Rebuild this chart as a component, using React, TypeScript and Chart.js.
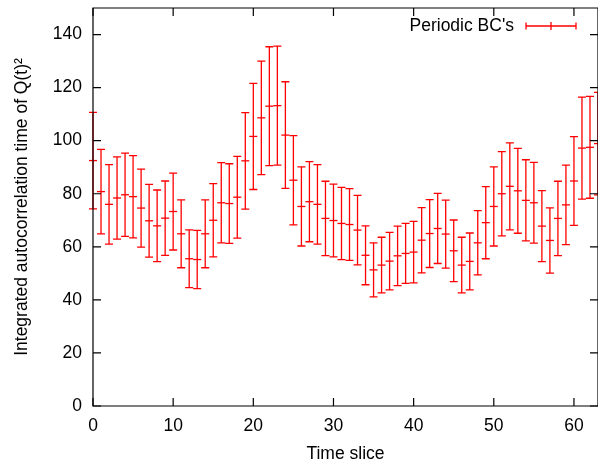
import React, { useEffect, useRef } from "react";
import { Chart, registerables } from "chart.js";

Chart.register(...registerables);

const timeSlices = [
  0, 1, 2, 3, 4, 5, 6, 7, 8, 9, 10, 11, 12, 13, 14, 15, 16, 17, 18, 19, 20, 21,
  22, 23, 24, 25, 26, 27, 28, 29, 30, 31, 32, 33, 34, 35, 36, 37, 38, 39, 40, 41,
  42, 43, 44, 45, 46, 47, 48, 49, 50, 51, 52, 53, 54, 55, 56, 57, 58, 59, 60, 61,
  62, 63,
];

const tauMeans = [
  92.5, 80.8, 76.0, 78.4, 79.6, 78.9, 74.6, 69.8, 67.9, 70.8, 73.3, 64.9, 55.5,
  55.2, 64.9, 70.0, 76.6, 76.3, 78.7, 92.4, 101.6, 108.6, 113.0, 113.2, 102.1,
  85.1, 75.2, 77.0, 76.0, 70.7, 69.9, 68.8, 68.4, 66.3, 56.8, 51.3, 53.1, 54.6,
  56.6, 57.5, 58.0, 62.5, 65.0, 66.9, 64.8, 58.5, 53.1, 54.5, 61.5, 69.1, 75.2,
  80.0, 82.8, 81.1, 77.5, 76.6, 67.8, 62.4, 70.7, 75.8, 84.8, 97.2, 97.5, 98.9,
];

const tauErrors = [
  18.2, 15.9, 15.0, 15.5, 15.7, 15.5, 14.7, 13.7, 13.5, 14.0, 14.5, 12.8, 10.9,
  11.0, 12.8, 13.8, 15.1, 15.0, 15.4, 18.2, 20.0, 21.4, 22.4, 22.4, 20.1, 16.8,
  14.9, 15.1, 15.0, 14.0, 13.7, 13.6, 13.5, 13.1, 11.1, 10.2, 10.5, 10.8, 11.2,
  11.3, 11.6, 12.3, 12.8, 13.2, 12.8, 11.6, 10.5, 10.7, 12.1, 13.6, 14.9, 15.9,
  16.4, 16.0, 15.3, 15.2, 13.4, 12.3, 14.0, 15.0, 16.7, 19.2, 19.2, 19.3,
];

const xTicks = [0, 10, 20, 30, 40, 50, 60];
const yTicks = [0, 20, 40, 60, 80, 100, 120, 140];
const xRange = [0, 63];
const yRange = [0, 150];

const seriesLabel = "Periodic BC's";
const xTitle = "Time slice";
const yTitle = "Integrated autocorrelation time of Q(t)\u00B2";

const RED = "#ff0000";
const FONT = "'Liberation Sans', Arial, Helvetica, sans-serif";
const FONT_SIZE = 17.5;

const errorBarPlugin = {
  id: "errorBars",
  afterDatasetsDraw(chart: any) {
    const ctx = chart.ctx;
    const xs = chart.scales.x;
    const ys = chart.scales.y;
    chart.data.datasets.forEach((ds: any) => {
      const errs: number[] = ds.errors || [];
      ctx.save();
      ctx.strokeStyle = ds.borderColor;
      ctx.lineWidth = 1.3;
      ds.data.forEach((p: any, i: number) => {
        const px = xs.getPixelForValue(p.x);
        const top = ys.getPixelForValue(p.y + errs[i]);
        const bot = ys.getPixelForValue(p.y - errs[i]);
        ctx.beginPath();
        ctx.moveTo(px, top);
        ctx.lineTo(px, bot);
        ctx.moveTo(px - 4, top);
        ctx.lineTo(px + 4, top);
        ctx.moveTo(px - 4, bot);
        ctx.lineTo(px + 4, bot);
        ctx.stroke();
      });
      ctx.restore();
    });
  },
};

const framePlugin = {
  id: "gnuFrame",
  afterDraw(chart: any) {
    const ctx = chart.ctx;
    const { left, right, top, bottom } = chart.chartArea;
    const xs = chart.scales.x;
    const ys = chart.scales.y;
    ctx.save();
    ctx.strokeStyle = "#000";
    ctx.lineWidth = 1.2;
    ctx.beginPath();
    ctx.rect(left, top, right - left, bottom - top);
    ctx.stroke();
    const tl = 8;
    ctx.beginPath();
    xTicks.forEach((v) => {
      const px = xs.getPixelForValue(v);
      ctx.moveTo(px, bottom);
      ctx.lineTo(px, bottom - tl);
      ctx.moveTo(px, top);
      ctx.lineTo(px, top + tl);
    });
    yTicks.forEach((v) => {
      const py = ys.getPixelForValue(v);
      ctx.moveTo(left, py);
      ctx.lineTo(left + tl, py);
      ctx.moveTo(right, py);
      ctx.lineTo(right - tl, py);
    });
    ctx.stroke();

    // key
    const ds = chart.data.datasets[0];
    const ky = top + 18;
    const sx1 = right - 72;
    const sx2 = right - 22;
    const sm = (sx1 + sx2) / 2;
    ctx.fillStyle = "#000";
    ctx.font = `${FONT_SIZE}px ${FONT}`;
    ctx.textAlign = "right";
    ctx.textBaseline = "middle";
    ctx.fillText(ds.label, right - 84, ky);
    ctx.strokeStyle = ds.borderColor;
    ctx.lineWidth = 1.3;
    ctx.beginPath();
    ctx.moveTo(sx1, ky);
    ctx.lineTo(sx2, ky);
    ctx.moveTo(sx1, ky - 3.5);
    ctx.lineTo(sx1, ky + 3.5);
    ctx.moveTo(sx2, ky - 3.5);
    ctx.lineTo(sx2, ky + 3.5);
    ctx.moveTo(sm, ky - 4);
    ctx.lineTo(sm, ky + 4);
    ctx.stroke();
    ctx.restore();
  },
};

const zeroPadding = (s: any) => {
  s.paddingTop = 0;
  s.paddingBottom = 0;
  s.paddingLeft = 0;
  s.paddingRight = 0;
};

export default function App() {
  const canvasRef = useRef<HTMLCanvasElement | null>(null);

  useEffect(() => {
    if (!canvasRef.current) return;
    const points = timeSlices.map((t, i) => ({ x: t, y: tauMeans[i] }));
    const chart = new Chart(canvasRef.current, {
      type: "scatter",
      data: {
        datasets: [
          {
            label: seriesLabel,
            data: points,
            errors: tauErrors,
            borderColor: RED,
            backgroundColor: RED,
            borderWidth: 1.3,
            pointStyle: "line",
            pointRadius: 4,
            pointHoverRadius: 4,
            showLine: false,
            clip: false,
          } as any,
        ],
      },
      options: {
        animation: false,
        responsive: false,
        devicePixelRatio: 1,
        events: [],
        layout: { autoPadding: false, padding: { top: 8, right: -1, left: 0, bottom: 0 } },
        plugins: {
          legend: { display: false },
          tooltip: { enabled: false },
        },
        scales: {
          x: {
            type: "linear",
            min: xRange[0],
            max: xRange[1],
            grid: { display: false },
            border: { display: false },
            ticks: {
              stepSize: 10,
              includeBounds: false,
              padding: 2,
              color: "#000",
              maxRotation: 0,
              font: { family: FONT, size: FONT_SIZE },
            },
            afterBuildTicks: (s: any) => {
              s.ticks = xTicks.map((v) => ({ value: v }));
            },
            title: {
              display: true,
              text: xTitle,
              color: "#000",
              padding: -3,
              font: { family: FONT, size: FONT_SIZE, lineHeight: 1 },
            },
            afterFit: (s: any) => {
              s.height = 54;
              zeroPadding(s);
            },
          },
          y: {
            type: "linear",
            min: yRange[0],
            max: yRange[1],
            grid: { display: false },
            border: { display: false },
            ticks: {
              stepSize: 20,
              includeBounds: false,
              padding: 3,
              color: "#000",
              font: { family: FONT, size: FONT_SIZE },
            },
            afterBuildTicks: (s: any) => {
              s.ticks = yTicks.map((v) => ({ value: v }));
            },
            title: {
              display: true,
              text: yTitle,
              color: "#000",
              padding: { top: 13.25, bottom: 0 },
              font: { family: FONT, size: FONT_SIZE, lineHeight: 1 },
            },
            afterFit: (s: any) => {
              s.width = 93;
              zeroPadding(s);
            },
          },
        },
      } as any,
      plugins: [errorBarPlugin, framePlugin],
    });
    return () => chart.destroy();
  }, []);

  return (
    <div style={{ position: "absolute", left: 0, top: 0, width: 598, height: 460 }}>
      <canvas ref={canvasRef} width={598} height={460} style={{ display: "block" }} />
    </div>
  );
}
